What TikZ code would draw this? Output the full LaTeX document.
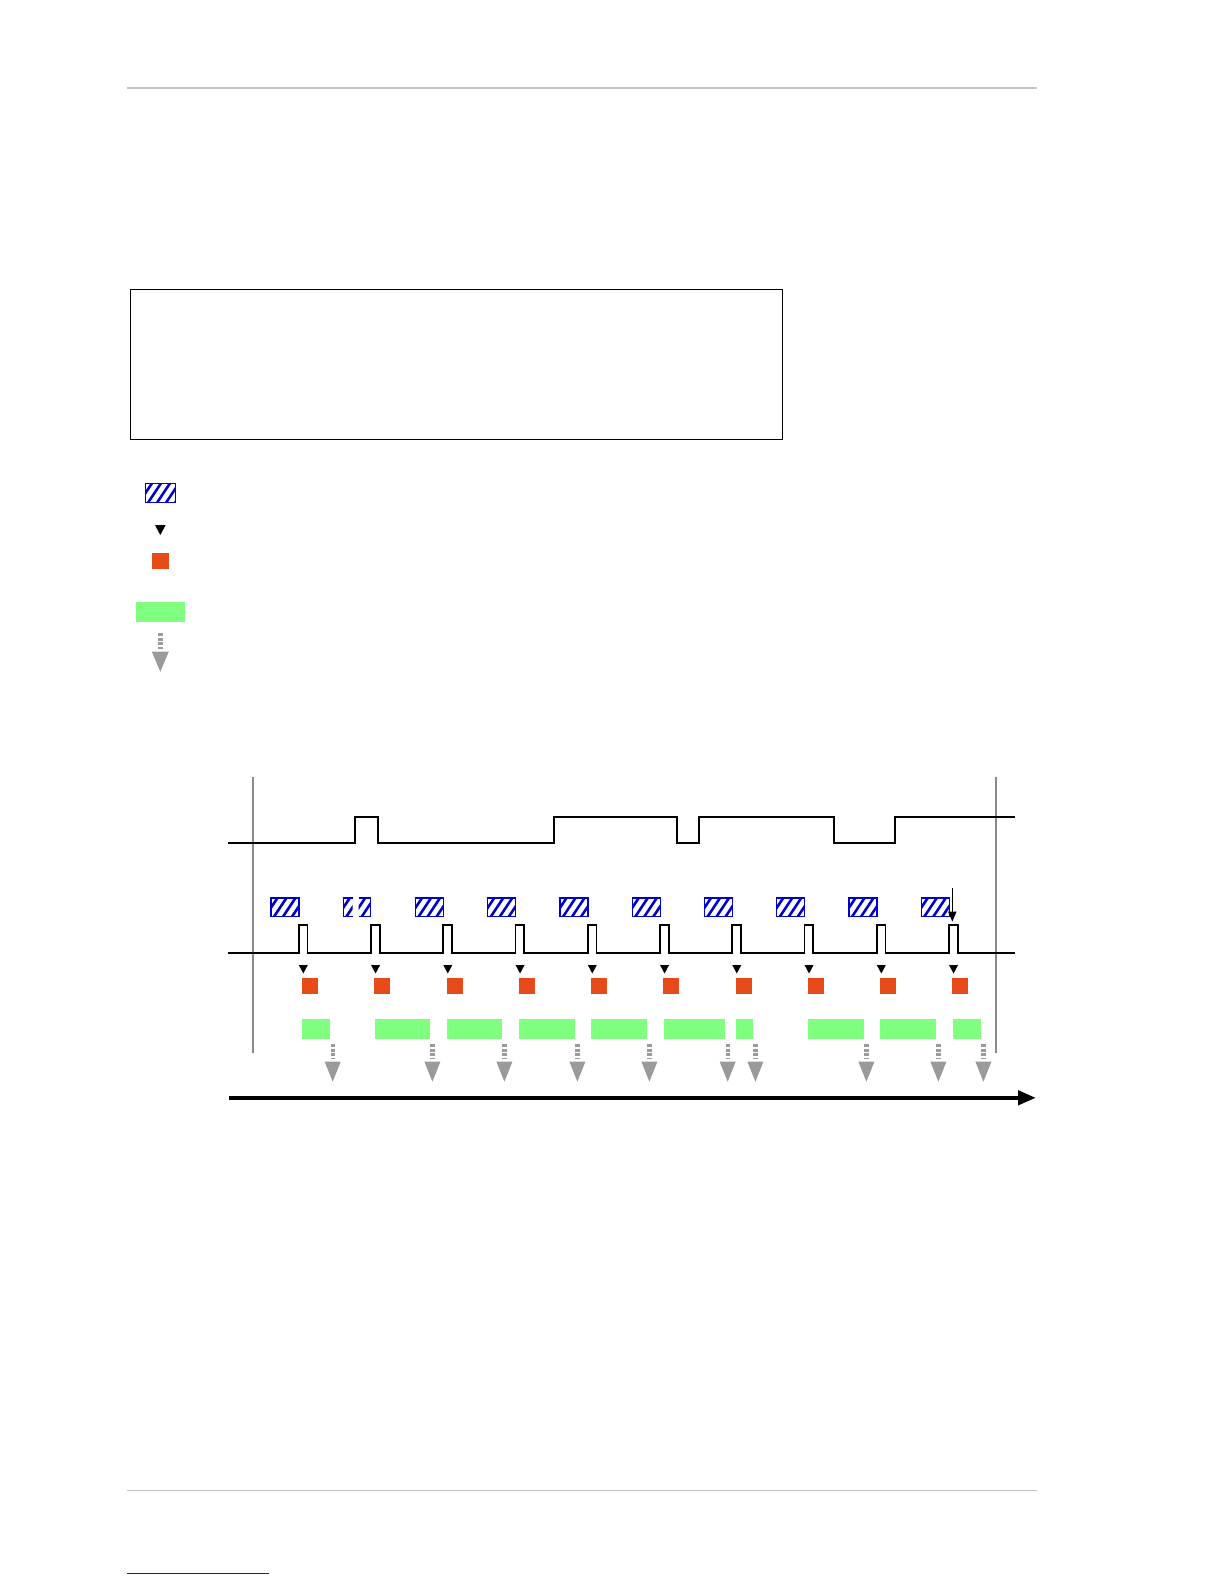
\documentclass[tikz,border=0pt]{standalone}
\usepackage{tikz}
\usetikzlibrary{calc,arrows.meta}
\definecolor{azul}{HTML}{0000CC}
\definecolor{laranja}{HTML}{E64A19}
\definecolor{verde}{HTML}{80FF80}
\definecolor{cinza}{HTML}{9A9A9A}
\definecolor{cinzaclaro}{HTML}{C4C4C4}
\definecolor{eixo}{HTML}{8A8A8A}
\definecolor{rodape}{HTML}{1A237E}
% caixa hachurada: x1, x2, y1, y2
\newcommand{\hachura}[4]{%
  \begin{scope}
    \clip ({#1},{#3}) rectangle ({#2},{#4});
    \foreach \s in {-24,-15,...,36} {\draw[listra] ({#1+\s},{#4}) -- ++(14,-21);}
  \end{scope}}
% seta cinza pontilhada: x, y do topo
\newcommand{\gota}[2]{%
  \draw[pont] ({#1},{#2}) -- ({#1},{#2+15});
  \fill[cinza] ({#1-8},{#2+18}) -- ({#1+8},{#2+18}) -- ({#1},{#2+38}) -- cycle;}

\begin{document}
\begin{tikzpicture}[x=0.5pt,y=-0.5pt,
    regua/.style={draw=cinzaclaro, line width=0.7pt},
    sinal/.style={draw=black, line width=0.85pt},
    listra/.style={draw=azul, line width=1.3pt},
    caixa/.style={draw=azul, line width=0.7pt},
    marca/.style={fill=black},
    quad/.style={fill=laranja},
    barra/.style={fill=verde},
    pont/.style={draw=cinza, line width=2.2pt, dash pattern=on 1.5pt off 0.9pt},
    lim/.style={draw=eixo, line width=1pt},
    ar/.style={-{Triangle[length=9pt,width=7pt]}, line width=2.1pt}]
  \useasboundingbox[fill=white] (0,0) rectangle (1224,1584);
  % reguas de cabecalho e rodape
  \draw[regua] (126.7,88) -- (1036.7,88);
  \draw[regua] (126.7,1490.6) -- (1036.7,1490.6);
  \draw[draw=rodape, line width=0.8pt] (127,1573.4) -- (268.6,1573.4);
  % quadro
  \draw[line width=0.75pt] (130.3,289.3) rectangle (782.3,439.3);
  % legenda
  \hachura{145.3}{175.3}{483.3}{502.3}
  \draw[caixa] (145.3,483.3) rectangle (175.3,502.3);
  \fill[marca] (155,525) -- (165.7,525) -- (160.3,535) -- cycle;
  \fill[quad] (152,553) rectangle (169,569);
  \fill[barra] (136,602) rectangle (184.7,621.7);
  \draw[pont] (160.3,632.7) -- (160.3,649);
  \fill[cinza] (151.8,651.7) -- (168.8,651.7) -- (160.3,671.7) -- cycle;
  % limites
  \coordinate (l0) at (252.7,776.7);
  \coordinate (l1) at (252.7,1053);
  \coordinate (r0) at (996,776.7);
  \coordinate (r1) at (996,1053);
  \draw[lim] (l0) -- (l1);
  \draw[lim] (r0) -- (r1);
  % sinal superior
  \draw[sinal] (228,843.3) -- (355.3,843.3) |- (378,816.7) |- (554.3,843.3)
    |- (676.7,816.7) |- (699.3,843.3) |- (834.3,816.7) |- (895.3,843.3)
    |- (1015,816.7);
  % trem de pulsos
  \draw[sinal] (228,952.7) foreach \i in {0,...,9} {-- ({298.7+72.25*\i},952.7)
    -- ++(0,-27.4) -- ++(8.7,0) -- ++(0,27.4)} -- (1015,952.7);
  % exposicoes, marcas e leituras
  \foreach \i [evaluate=\i as \xa using 271+72.25*\i] in {0,...,9}{
    \ifnum\i=1
      \hachura{343.3}{352.7}{898}{916.7}
      \hachura{358.7}{370.7}{898}{916.7}
      \draw[caixa] (352.7,898) -| (343.3,916.7) -- (352.7,916.7);
      \draw[caixa] (358.7,898) -| (370.7,916.7) -- (358.7,916.7);
    \else
      \hachura{\xa}{\xa+28}{898}{916.7}
      \draw[caixa] (\xa,898) rectangle ({\xa+28},916.7);
    \fi
    \fill[marca] ({\xa+27.8},965) -- ++(9,0) -- ++(-4.5,8.5) -- cycle;
    \fill[quad] ({\xa+31},977.7) rectangle ++(16,16);
  }
  \foreach \a/\b in {302/330,375/429.7,447/501.7,519/574.7,591/646.7,664/725,
      736/752.7,808/863.7,880/935.7,953/980.7}{
    \fill[barra] (\a,1019) rectangle (\b,1038.7);
    \gota{\b+2.7}{1043.7}
  }
  % disparo
  \coordinate (d0) at (952.3,888.3);
  \coordinate (d1) at (952.3,921.7);
  \draw[-{Triangle[length=5pt,width=4pt]}, line width=0.8pt] (d0) -- (d1);
  % eixo do tempo
  \coordinate (t0) at (229,1097.8);
  \coordinate (t1) at (1036,1097.8);
  \draw[ar] (t0) -- (t1);
\end{tikzpicture}
\end{document}
